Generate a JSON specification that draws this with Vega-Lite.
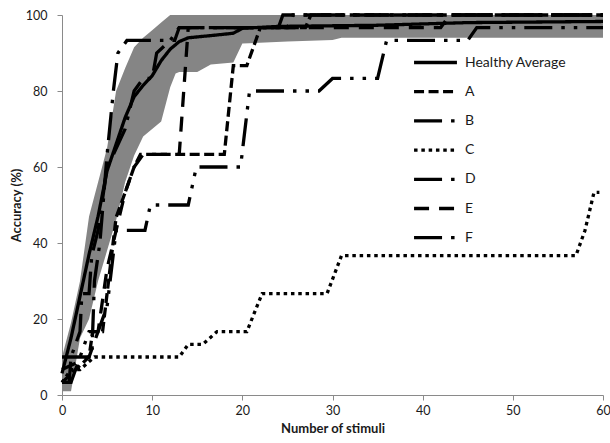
{
  "$schema": "https://vega.github.io/schema/vega-lite/v6.json",
  "width": 541,
  "height": 380,
  "autosize": "none",
  "padding": {"left": 62, "top": 15, "right": 7, "bottom": 48},
  "background": "white",
  "config": {
    "view": {"stroke": null},
    "font": "Lato",
    "axis": {
      "grid": false,
      "domainColor": "#8a8a8a",
      "tickColor": "#8a8a8a",
      "tickSize": 5,
      "labelFont": "Lato",
      "labelFontSize": 12.5,
      "labelColor": "#1a1a1a",
      "titleFont": "Lato",
      "titleFontSize": 13,
      "titleFontWeight": "bold",
      "titleColor": "#1a1a1a"
    }
  },
  "datasets": {
    "band": [
      {"x": 0, "lo": 1, "hi": 10},
      {"x": 1, "lo": 1, "hi": 19},
      {"x": 2, "lo": 15, "hi": 30},
      {"x": 3, "lo": 20, "hi": 47},
      {"x": 4, "lo": 30, "hi": 56},
      {"x": 5, "lo": 38, "hi": 65},
      {"x": 6, "lo": 46, "hi": 80},
      {"x": 7, "lo": 56, "hi": 86},
      {"x": 8, "lo": 63, "hi": 91.5},
      {"x": 9, "lo": 68, "hi": 94},
      {"x": 10, "lo": 70, "hi": 96},
      {"x": 11, "lo": 72, "hi": 98},
      {"x": 12, "lo": 81, "hi": 100},
      {"x": 12.6, "lo": 84.6, "hi": 100},
      {"x": 13, "lo": 85, "hi": 100},
      {"x": 15, "lo": 85, "hi": 100},
      {"x": 16.5, "lo": 87, "hi": 100},
      {"x": 19, "lo": 87.5, "hi": 100},
      {"x": 20, "lo": 92.5, "hi": 100},
      {"x": 25, "lo": 93, "hi": 100},
      {"x": 30, "lo": 93.4, "hi": 100},
      {"x": 31, "lo": 94, "hi": 100},
      {"x": 60, "lo": 94, "hi": 100}
    ],
    "lines": [
      {"s": "Healthy Average", "x": 0, "y": 5.7},
      {"s": "Healthy Average", "x": 1, "y": 15},
      {"s": "Healthy Average", "x": 2, "y": 26},
      {"s": "Healthy Average", "x": 3, "y": 37},
      {"s": "Healthy Average", "x": 4, "y": 47},
      {"s": "Healthy Average", "x": 5, "y": 59},
      {"s": "Healthy Average", "x": 6, "y": 66},
      {"s": "Healthy Average", "x": 7, "y": 73},
      {"s": "Healthy Average", "x": 8, "y": 78.5},
      {"s": "Healthy Average", "x": 9, "y": 81.5},
      {"s": "Healthy Average", "x": 10, "y": 84},
      {"s": "Healthy Average", "x": 11, "y": 88},
      {"s": "Healthy Average", "x": 12, "y": 91},
      {"s": "Healthy Average", "x": 13, "y": 93},
      {"s": "Healthy Average", "x": 14, "y": 94},
      {"s": "Healthy Average", "x": 17, "y": 94.7},
      {"s": "Healthy Average", "x": 19, "y": 95.2},
      {"s": "Healthy Average", "x": 20, "y": 96.5},
      {"s": "Healthy Average", "x": 24, "y": 97},
      {"s": "Healthy Average", "x": 35, "y": 97.3},
      {"s": "Healthy Average", "x": 45, "y": 98},
      {"s": "Healthy Average", "x": 60, "y": 98.3},

      {"s": "A", "x": 0, "y": 3.3},
      {"s": "A", "x": 3, "y": 10},
      {"s": "A", "x": 3.4, "y": 16.7},
      {"s": "A", "x": 4.5, "y": 16.7},
      {"s": "A", "x": 5, "y": 26.7},
      {"s": "A", "x": 6, "y": 46.7},
      {"s": "A", "x": 7, "y": 53.3},
      {"s": "A", "x": 8, "y": 60},
      {"s": "A", "x": 8.7, "y": 63.3},
      {"s": "A", "x": 18, "y": 63.3},
      {"s": "A", "x": 19, "y": 86.7},
      {"s": "A", "x": 20.5, "y": 86.7},
      {"s": "A", "x": 22, "y": 96.7},
      {"s": "A", "x": 27, "y": 96.7},
      {"s": "A", "x": 27.6, "y": 100},
      {"s": "A", "x": 60, "y": 100},

      {"s": "B", "x": 0, "y": 3.3},
      {"s": "B", "x": 1, "y": 3.3},
      {"s": "B", "x": 2, "y": 10},
      {"s": "B", "x": 3, "y": 16.7},
      {"s": "B", "x": 4, "y": 16.7},
      {"s": "B", "x": 5, "y": 23.3},
      {"s": "B", "x": 6, "y": 43.3},
      {"s": "B", "x": 9.2, "y": 43.3},
      {"s": "B", "x": 9.8, "y": 50},
      {"s": "B", "x": 14, "y": 50},
      {"s": "B", "x": 14.9, "y": 60},
      {"s": "B", "x": 19.8, "y": 60},
      {"s": "B", "x": 20.8, "y": 80},
      {"s": "B", "x": 28.5, "y": 80},
      {"s": "B", "x": 30, "y": 83.3},
      {"s": "B", "x": 35, "y": 83.3},
      {"s": "B", "x": 36, "y": 93.3},
      {"s": "B", "x": 45, "y": 93.3},
      {"s": "B", "x": 46, "y": 96.7},
      {"s": "B", "x": 60, "y": 96.7},

      {"s": "C", "x": 0, "y": 3.3},
      {"s": "C", "x": 1, "y": 6.7},
      {"s": "C", "x": 2, "y": 6.7},
      {"s": "C", "x": 3.6, "y": 10},
      {"s": "C", "x": 13, "y": 10},
      {"s": "C", "x": 14, "y": 13.3},
      {"s": "C", "x": 15.6, "y": 13.3},
      {"s": "C", "x": 17.2, "y": 16.7},
      {"s": "C", "x": 20.5, "y": 16.7},
      {"s": "C", "x": 22.2, "y": 26.7},
      {"s": "C", "x": 29.4, "y": 26.7},
      {"s": "C", "x": 31, "y": 36.7},
      {"s": "C", "x": 57, "y": 36.7},
      {"s": "C", "x": 58, "y": 43.3},
      {"s": "C", "x": 59, "y": 53.3},
      {"s": "C", "x": 59.6, "y": 53.3},

      {"s": "D", "x": 0, "y": 10},
      {"s": "D", "x": 3.3, "y": 10},
      {"s": "D", "x": 3.6, "y": 30},
      {"s": "D", "x": 4.2, "y": 40},
      {"s": "D", "x": 5, "y": 63.3},
      {"s": "D", "x": 5.7, "y": 80},
      {"s": "D", "x": 6.2, "y": 90},
      {"s": "D", "x": 7.2, "y": 93.3},
      {"s": "D", "x": 12.5, "y": 93.3},
      {"s": "D", "x": 13, "y": 96.7},
      {"s": "D", "x": 25, "y": 96.7},
      {"s": "D", "x": 25.6, "y": 100},
      {"s": "D", "x": 60, "y": 100},

      {"s": "E", "x": 0, "y": 6.7},
      {"s": "E", "x": 3, "y": 10},
      {"s": "E", "x": 4, "y": 16.7},
      {"s": "E", "x": 5, "y": 33.3},
      {"s": "E", "x": 6, "y": 43.3},
      {"s": "E", "x": 7, "y": 53.3},
      {"s": "E", "x": 8, "y": 60},
      {"s": "E", "x": 9, "y": 63.3},
      {"s": "E", "x": 13, "y": 63.3},
      {"s": "E", "x": 14, "y": 96.7},
      {"s": "E", "x": 42, "y": 96.7},
      {"s": "E", "x": 43, "y": 100},
      {"s": "E", "x": 60, "y": 100},

      {"s": "F", "x": 0, "y": 3.3},
      {"s": "F", "x": 0.8, "y": 3.3},
      {"s": "F", "x": 1, "y": 10},
      {"s": "F", "x": 2, "y": 16.7},
      {"s": "F", "x": 2.2, "y": 26.7},
      {"s": "F", "x": 3, "y": 26.7},
      {"s": "F", "x": 3.3, "y": 36.7},
      {"s": "F", "x": 4, "y": 43.3},
      {"s": "F", "x": 5, "y": 60},
      {"s": "F", "x": 5.7, "y": 63.3},
      {"s": "F", "x": 7, "y": 70},
      {"s": "F", "x": 8, "y": 80},
      {"s": "F", "x": 9, "y": 83.3},
      {"s": "F", "x": 10, "y": 83.3},
      {"s": "F", "x": 10.5, "y": 90},
      {"s": "F", "x": 12, "y": 93.3},
      {"s": "F", "x": 13, "y": 96.7},
      {"s": "F", "x": 24, "y": 96.7},
      {"s": "F", "x": 24.5, "y": 100},
      {"s": "F", "x": 60, "y": 100}
    ]
  },
  "layer": [
    {
      "data": {"name": "band"},
      "mark": {"type": "area", "color": "#858585", "opacity": 1},
      "encoding": {
        "x": {"field": "x", "type": "quantitative", "scale": {"domain": [0, 60], "nice": false},
              "axis": {"values": [0, 10, 20, 30, 40, 50, 60], "title": "Number of stimuli", "labelPadding": 4, "titlePadding": 6, "labelFlush": false}},
        "y": {"field": "hi", "type": "quantitative", "scale": {"domain": [0, 100], "nice": false},
              "axis": {"values": [0, 10, 20, 30, 40, 50, 60, 70, 80, 90, 100], "title": "Accuracy  (%)", "labelPadding": 10, "titlePadding": 2}},
        "y2": {"field": "lo"}
      }
    },
    {
      "data": {"name": "lines"},
      "mark": {"type": "line", "color": "black", "strokeWidth": 3.3, "strokeCap": "butt", "strokeJoin": "miter"},
      "encoding": {
        "x": {"field": "x", "type": "quantitative"},
        "y": {"field": "y", "type": "quantitative"},
        "detail": {"field": "s"},
        "strokeDash": {
          "field": "s", "type": "nominal",
          "scale": {
            "domain": ["Healthy Average", "A", "B", "C", "D", "E", "F"],
            "range": [[1, 0], [10, 4.5], [28, 9, 3.5, 9, 3.5, 9], [3.5, 3.8], [28, 9, 3.5, 9], [15, 10], [28, 9, 3.5, 9]]
          },
          "legend": {
            "title": null,
            "orient": "none",
            "legendX": 366,
            "legendY": 40,
            "symbolType": "M-4,0H4",
            "symbolSize": 115,
            "symbolStrokeWidth": 3.3,
            "symbolStrokeColor": "black",
            "symbolFillColor": "transparent",
            "labelFont": "Lato",
            "labelFontSize": 14,
            "labelColor": "#1a1a1a",
            "labelOffset": 22,
            "rowPadding": 14.2
          }
        }
      }
    }
  ]
}
